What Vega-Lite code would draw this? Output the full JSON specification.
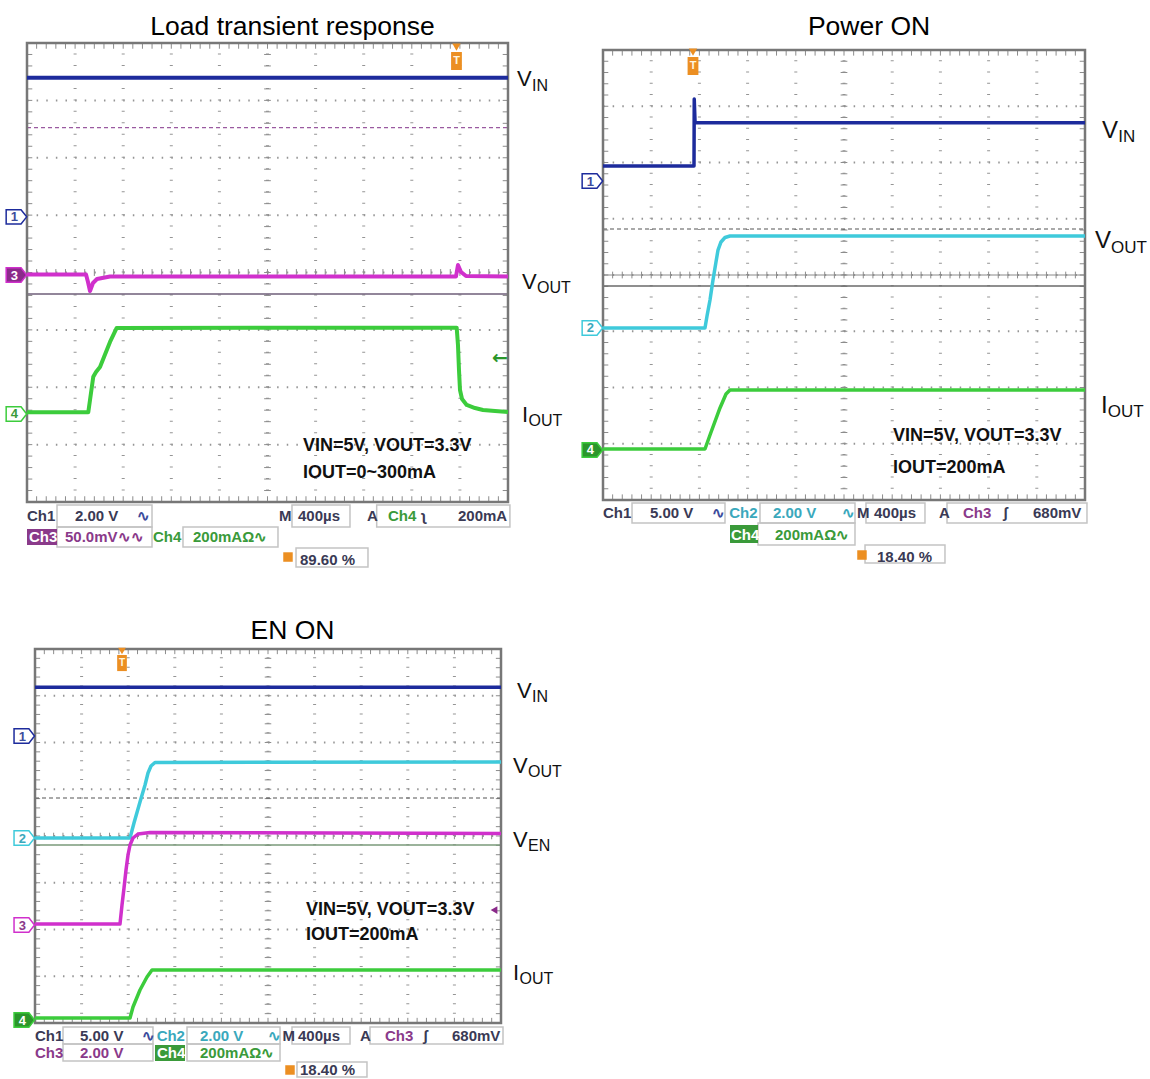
{
"$schema":"https://vega.github.io/schema/vega-lite/v6.json",
"background":"white","padding":0,"bounds":"flush","spacing":0,"columns":2,
"config":{"view":{"stroke":null},"axis":{"disable":true},"legend":{"disable":true}},
"datasets":{
"gx":[{"v":1},{"v":2},{"v":3},{"v":4},{"v":5},{"v":6},{"v":7},{"v":8},{"v":9}],
"gy":[{"v":1},{"v":2},{"v":3},{"v":4},{"v":5},{"v":6},{"v":7}],
"mx":[{"v":0.2},{"v":0.4},{"v":0.6},{"v":0.8},{"v":1},{"v":1.2},{"v":1.4},{"v":1.6},{"v":1.8},{"v":2},{"v":2.2},{"v":2.4},{"v":2.6},{"v":2.8},{"v":3},{"v":3.2},{"v":3.4},{"v":3.6},{"v":3.8},{"v":4},{"v":4.2},{"v":4.4},{"v":4.6},{"v":4.8},{"v":5},{"v":5.2},{"v":5.4},{"v":5.6},{"v":5.8},{"v":6},{"v":6.2},{"v":6.4},{"v":6.6},{"v":6.8},{"v":7},{"v":7.2},{"v":7.4},{"v":7.6},{"v":7.8},{"v":8},{"v":8.2},{"v":8.4},{"v":8.6},{"v":8.8},{"v":9},{"v":9.2},{"v":9.4},{"v":9.6},{"v":9.8}],
"my":[{"v":0.2},{"v":0.4},{"v":0.6},{"v":0.8},{"v":1},{"v":1.2},{"v":1.4},{"v":1.6},{"v":1.8},{"v":2},{"v":2.2},{"v":2.4},{"v":2.6},{"v":2.8},{"v":3},{"v":3.2},{"v":3.4},{"v":3.6},{"v":3.8},{"v":4},{"v":4.2},{"v":4.4},{"v":4.6},{"v":4.8},{"v":5},{"v":5.2},{"v":5.4},{"v":5.6},{"v":5.8},{"v":6},{"v":6.2},{"v":6.4},{"v":6.6},{"v":6.8},{"v":7},{"v":7.2},{"v":7.4},{"v":7.6},{"v":7.8}]
},
"concat":[
{"width":575,"height":575,
"layer":[
{"data":{"name":"gx"},"mark":{"type":"rule","stroke":"#959595","strokeWidth":3,"strokeDash":[1,10.475]},"encoding":{"x":{"field":"v","type":"quantitative","scale":{"domain":[-0.5613,11.3929],"nice":false,"zero":false}},"y":{"datum":0,"type":"quantitative","scale":{"domain":[-1.2723,8.7495],"nice":false,"zero":false}},"y2":{"datum":8}}},
{"data":{"name":"gy"},"mark":{"type":"rule","stroke":"#959595","strokeWidth":2,"strokeDash":[1.5,8.12]},"encoding":{"y":{"field":"v","type":"quantitative"},"x":{"datum":0},"x2":{"datum":10}}},
{"data":{"name":"mx"},"mark":{"type":"rule","stroke":"#8c8c8c","strokeWidth":1},"encoding":{"x":{"field":"v","type":"quantitative"},"y":{"datum":8},"y2":{"datum":7.9}}},
{"data":{"name":"mx"},"mark":{"type":"rule","stroke":"#8c8c8c","strokeWidth":1},"encoding":{"x":{"field":"v","type":"quantitative"},"y":{"datum":0},"y2":{"datum":0.1}}},
{"data":{"name":"mx"},"mark":{"type":"rule","stroke":"#8c8c8c","strokeWidth":1},"encoding":{"x":{"field":"v","type":"quantitative"},"y":{"datum":3.94},"y2":{"datum":4.06}}},
{"data":{"name":"my"},"mark":{"type":"rule","stroke":"#8c8c8c","strokeWidth":1},"encoding":{"y":{"field":"v","type":"quantitative"},"x":{"datum":0},"x2":{"datum":0.11}}},
{"data":{"name":"my"},"mark":{"type":"rule","stroke":"#8c8c8c","strokeWidth":1},"encoding":{"y":{"field":"v","type":"quantitative"},"x":{"datum":9.89},"x2":{"datum":10}}},
{"data":{"name":"my"},"mark":{"type":"rule","stroke":"#8c8c8c","strokeWidth":1},"encoding":{"y":{"field":"v","type":"quantitative"},"x":{"datum":4.93},"x2":{"datum":5.07}}},
{"data":{"values":[{}]},"mark":{"type":"rule","stroke":"#9a5aa0","strokeWidth":1.3,"strokeDash":[4,3]},"encoding":{"y":{"datum":6.524},"x":{"datum":0},"x2":{"datum":10}}},
{"data":{"values":[{}]},"mark":{"type":"rule","stroke":"#6e5e78","strokeWidth":1.5},"encoding":{"y":{"datum":3.625},"x":{"datum":0},"x2":{"datum":10}}},
{"data":{"values":[{}]},"mark":{"type":"rect","filled":false,"stroke":"#777777","strokeWidth":2.5},"encoding":{"x":{"datum":0},"x2":{"datum":10},"y":{"datum":0},"y2":{"datum":8}}},
{"data":{"values":[
{"ch":"1","x":0,"y":7.395},{"ch":"1","x":10,"y":7.395},
{"ch":"3","x":0,"y":3.965},{"ch":"3","x":1.227,"y":3.965},{"ch":"3","x":1.268,"y":3.834},{"ch":"3","x":1.31,"y":3.677},{"ch":"3","x":1.372,"y":3.817},{"ch":"3","x":1.455,"y":3.887},{"ch":"3","x":1.726,"y":3.93},{"ch":"3","x":8.919,"y":3.93},{"ch":"3","x":8.96,"y":4.131},{"ch":"3","x":9.023,"y":4.009},{"ch":"3","x":9.127,"y":3.939},{"ch":"3","x":10,"y":3.93},
{"ch":"4","x":0,"y":1.563},{"ch":"4","x":1.274,"y":1.563},{"ch":"4","x":1.31,"y":1.778},{"ch":"4","x":1.378,"y":2.184},{"ch":"4","x":1.435,"y":2.266},{"ch":"4","x":1.518,"y":2.353},{"ch":"4","x":1.601,"y":2.527},{"ch":"4","x":1.726,"y":2.789},{"ch":"4","x":1.865,"y":3.033},{"ch":"4","x":8.933,"y":3.038},{"ch":"4","x":8.96,"y":2.736},{"ch":"4","x":8.981,"y":2.301},{"ch":"4","x":9.002,"y":1.952},{"ch":"4","x":9.044,"y":1.795},{"ch":"4","x":9.141,"y":1.691},{"ch":"4","x":9.314,"y":1.638},{"ch":"4","x":9.48,"y":1.603},{"ch":"4","x":9.73,"y":1.586},{"ch":"4","x":10,"y":1.569}
]},"mark":{"type":"line","strokeWidth":4,"strokeJoin":"round"},"encoding":{"x":{"field":"x","type":"quantitative"},"y":{"field":"y","type":"quantitative"},"stroke":{"field":"ch","type":"nominal","scale":{"domain":["1","2","3","4"],"range":["#1d2b9c","#3fcadb","#d030cc","#3ccc3c"]},"legend":null}}},
{"data":{"values":[{"ch":"1","y":4.97,"sel":false},{"ch":"3","y":3.956,"sel":true},{"ch":"4","y":1.534,"sel":false}]},"mark":{"type":"point","shape":"M-1,-0.7L0.45,-0.7L1,0L0.45,0.7L-1,0.7Z","size":420,"strokeWidth":1.5,"filled":true,"opacity":1},"encoding":{"x":{"datum":-0.22},"y":{"field":"y","type":"quantitative"},"fill":{"condition":{"test":"datum.sel","field":"ch","type":"nominal","scale":{"domain":["1","2","3","4"],"range":["#5a6aa8","#3fb8c8","#8a2a8a","#2a962a"]},"legend":null},"value":"white"},"stroke":{"field":"ch","type":"nominal","scale":{"domain":["1","2","3","4"],"range":["#1d2b9c","#3fcadb","#d030cc","#3ccc3c"]},"legend":null}}},
{"data":{"values":[{"ch":"1","y":4.97,"sel":false},{"ch":"3","y":3.956,"sel":true},{"ch":"4","y":1.534,"sel":false}]},"mark":{"type":"text","font":"Liberation Sans","fontWeight":"bold","fontSize":13,"dx":-2,"dy":0.5,"baseline":"middle","align":"center"},"encoding":{"x":{"datum":-0.22},"y":{"field":"y","type":"quantitative"},"text":{"field":"ch"},"color":{"condition":{"test":"datum.sel","value":"white"},"field":"ch","type":"nominal","scale":{"domain":["1","2","3","4","k","w"],"range":["#3c4c9c","#3aa8bc","#8a3a8a","#3a9a3a","#3a3a55","#ffffff"]},"legend":null}}},
{"data":{"values":[{}]},"mark":{"type":"point","shape":"triangle-down","size":70,"filled":true,"color":"#ec8f22","opacity":1},"encoding":{"x":{"datum":8.929},"y":{"datum":7.93}}},
{"data":{"values":[{}]},"mark":{"type":"point","shape":"M-0.6,-1L0.6,-1L0.6,1L-0.6,1Z","size":324,"filled":true,"color":"#ec8f22","opacity":1},"encoding":{"x":{"datum":8.929},"y":{"datum":7.686}}},
{"data":{"values":[{}]},"mark":{"type":"text","text":"T","font":"Liberation Sans","fontWeight":"bold","fontSize":11,"color":"#fff6e0","baseline":"middle","align":"center"},"encoding":{"x":{"datum":8.929},"y":{"datum":7.686}}},
{"data":{"values":[{"t":"←"}]},"mark":{"type":"text","font":"DejaVu Sans","fontWeight":"bold","fontSize":19,"align":"center","baseline":"middle","color":"#2a962a"},"encoding":{"x":{"datum":9.834},"y":{"datum":2.51},"text":{"field":"t"}}},
{"data":{"values":[{"t":"Load transient response"}]},"mark":{"type":"text","font":"Liberation Sans","fontSize":26.5,"align":"center","baseline":"alphabetic","color":"#000000"},"encoding":{"x":{"datum":5.52},"y":{"datum":8.139},"text":{"field":"t"}}},
{"data":{"values":[{"x":10.187,"y":7.251,"t":"V"},{"x":10.291,"y":3.712,"t":"V"},{"x":10.291,"y":1.394,"t":"I"}]},"mark":{"type":"text","font":"Liberation Sans","fontSize":22,"align":"left","baseline":"alphabetic","color":"#111111"},"encoding":{"x":{"field":"x","type":"quantitative"},"y":{"field":"y","type":"quantitative"},"text":{"field":"t"}}},
{"data":{"values":[{"x":10.499,"y":7.163,"t":"IN"},{"x":10.603,"y":3.643,"t":"OUT"},{"x":10.426,"y":1.325,"t":"OUT"}]},"mark":{"type":"text","font":"Liberation Sans","fontSize":16,"align":"left","baseline":"alphabetic","color":"#111111"},"encoding":{"x":{"field":"x","type":"quantitative"},"y":{"field":"y","type":"quantitative"},"text":{"field":"t"}}},
{"data":{"values":[{"x":5.738,"y":0.889,"t":"VIN=5V, VOUT=3.3V"},{"x":5.738,"y":0.418,"t":"IOUT=0~300mA"}]},"mark":{"type":"text","font":"Liberation Sans","fontWeight":"bold","fontSize":18,"align":"left","baseline":"alphabetic","color":"#111111"},"encoding":{"x":{"field":"x","type":"quantitative"},"y":{"field":"y","type":"quantitative"},"text":{"field":"t"}}},
{"data":{"values":[{"x":0.624,"x2":2.599,"y":-0.052,"y2":-0.436},{"x":5.509,"x2":6.715,"y":-0.052,"y2":-0.436},{"x":7.27,"x2":10.04,"y":-0.052,"y2":-0.436},{"x":0.624,"x2":2.599,"y":-0.436,"y2":-0.784},{"x":3.243,"x2":5.218,"y":-0.436,"y2":-0.784},{"x":5.593,"x2":7.089,"y":-0.802,"y2":-1.133}]},"mark":{"type":"rect","filled":false,"stroke":"#c4c4c4","strokeWidth":1.5},"encoding":{"x":{"field":"x","type":"quantitative"},"x2":{"field":"x2"},"y":{"field":"y","type":"quantitative"},"y2":{"field":"y2"}}},
{"data":{"values":[{"x":0,"x2":0.624,"y":-0.471,"y2":-0.749,"c":"3"}]},"mark":{"type":"rect"},"encoding":{"x":{"field":"x","type":"quantitative"},"x2":{"field":"x2"},"y":{"field":"y","type":"quantitative"},"y2":{"field":"y2"},"color":{"field":"c","type":"nominal","scale":{"domain":["1","2","3","4","k","w"],"range":["#3c4c9c","#3aa8bc","#8a3a8a","#3a9a3a","#3a3a55","#ffffff"]},"legend":null}}},
{"data":{"values":[
{"x":0,"y":-0.331,"t":"Ch1","c":"k"},{"x":0.998,"y":-0.331,"t":"2.00 V","c":"k"},{"x":2.287,"y":-0.331,"t":"∿","c":"1"},{"x":5.239,"y":-0.331,"t":"M","c":"k"},{"x":5.634,"y":-0.331,"t":"400µs","c":"k"},{"x":7.07,"y":-0.331,"t":"A","c":"k"},{"x":7.505,"y":-0.331,"t":"Ch4","c":"4"},{"x":8.2,"y":-0.331,"t":"ʅ","c":"k"},{"x":8.96,"y":-0.331,"t":"200mA","c":"k"},
{"x":0.042,"y":-0.697,"t":"Ch3","c":"w"},{"x":0.79,"y":-0.697,"t":"50.0mV∿∿","c":"3"},{"x":2.62,"y":-0.697,"t":"Ch4","c":"4"},{"x":3.451,"y":-0.697,"t":"200mAΩ∿","c":"4"},
{"x":5.676,"y":-1.098,"t":"89.60 %","c":"k"}
]},"mark":{"type":"text","font":"Liberation Sans","fontWeight":"bold","fontSize":15,"align":"left","baseline":"alphabetic"},"encoding":{"x":{"field":"x","type":"quantitative"},"y":{"field":"y","type":"quantitative"},"text":{"field":"t"},"color":{"field":"c","type":"nominal","scale":{"domain":["1","2","3","4","k","w"],"range":["#3c4c9c","#3aa8bc","#8a3a8a","#3a9a3a","#3a3a55","#ffffff"]},"legend":null}}},
{"data":{"values":[{}]},"mark":{"type":"square","size":90,"color":"#ec8f22","opacity":1},"encoding":{"x":{"datum":5.426},"y":{"datum":-0.959}}}
]},
{"width":575,"height":575,
"layer":[
{"data":{"name":"gx"},"mark":{"type":"rule","stroke":"#959595","strokeWidth":3,"strokeDash":[1,10.25]},"encoding":{"x":{"field":"v","type":"quantitative","scale":{"domain":[-0.5809,11.3485],"nice":false,"zero":false}},"y":{"datum":0,"type":"quantitative","scale":{"domain":[-1.3333,8.8889],"nice":false,"zero":false}},"y2":{"datum":8}}},
{"data":{"name":"gy"},"mark":{"type":"rule","stroke":"#959595","strokeWidth":2,"strokeDash":[1.5,8.14]},"encoding":{"y":{"field":"v","type":"quantitative"},"x":{"datum":0},"x2":{"datum":10}}},
{"data":{"name":"mx"},"mark":{"type":"rule","stroke":"#8c8c8c","strokeWidth":1},"encoding":{"x":{"field":"v","type":"quantitative"},"y":{"datum":8},"y2":{"datum":7.9}}},
{"data":{"name":"mx"},"mark":{"type":"rule","stroke":"#8c8c8c","strokeWidth":1},"encoding":{"x":{"field":"v","type":"quantitative"},"y":{"datum":0},"y2":{"datum":0.1}}},
{"data":{"name":"mx"},"mark":{"type":"rule","stroke":"#8c8c8c","strokeWidth":1},"encoding":{"x":{"field":"v","type":"quantitative"},"y":{"datum":3.94},"y2":{"datum":4.06}}},
{"data":{"name":"my"},"mark":{"type":"rule","stroke":"#8c8c8c","strokeWidth":1},"encoding":{"y":{"field":"v","type":"quantitative"},"x":{"datum":0},"x2":{"datum":0.11}}},
{"data":{"name":"my"},"mark":{"type":"rule","stroke":"#8c8c8c","strokeWidth":1},"encoding":{"y":{"field":"v","type":"quantitative"},"x":{"datum":9.89},"x2":{"datum":10}}},
{"data":{"name":"my"},"mark":{"type":"rule","stroke":"#8c8c8c","strokeWidth":1},"encoding":{"y":{"field":"v","type":"quantitative"},"x":{"datum":4.93},"x2":{"datum":5.07}}},
{"data":{"values":[{}]},"mark":{"type":"rule","stroke":"#8a8a8a","strokeWidth":1},"encoding":{"y":{"datum":4},"x":{"datum":0},"x2":{"datum":10}}},
{"data":{"values":[{}]},"mark":{"type":"rule","stroke":"#6a6a6a","strokeWidth":1.5},"encoding":{"y":{"datum":3.804},"x":{"datum":0},"x2":{"datum":10}}},
{"data":{"values":[{}]},"mark":{"type":"rule","stroke":"#555555","strokeWidth":1.2,"strokeDash":[4,3]},"encoding":{"y":{"datum":4.818},"x":{"datum":0},"x2":{"datum":10}}},
{"data":{"values":[{}]},"mark":{"type":"rect","filled":false,"stroke":"#777777","strokeWidth":2.5},"encoding":{"x":{"datum":0},"x2":{"datum":10},"y":{"datum":0},"y2":{"datum":8}}},
{"data":{"values":[
{"ch":"1","x":0,"y":5.938},{"ch":"1","x":1.888,"y":5.938},{"ch":"1","x":1.893,"y":7.129},{"ch":"1","x":1.91,"y":6.708},{"ch":"1","x":10,"y":6.708},
{"ch":"2","x":0,"y":3.058},{"ch":"2","x":2.116,"y":3.058},{"ch":"2","x":2.158,"y":3.271},{"ch":"2","x":2.22,"y":3.556},{"ch":"2","x":2.282,"y":3.911},{"ch":"2","x":2.344,"y":4.231},{"ch":"2","x":2.386,"y":4.444},{"ch":"2","x":2.448,"y":4.587},{"ch":"2","x":2.531,"y":4.667},{"ch":"2","x":2.635,"y":4.693},{"ch":"2","x":10,"y":4.693},
{"ch":"4","x":0,"y":0.907},{"ch":"4","x":2.116,"y":0.907},{"ch":"4","x":2.22,"y":1.156},{"ch":"4","x":2.427,"y":1.636},{"ch":"4","x":2.552,"y":1.884},{"ch":"4","x":2.635,"y":1.956},{"ch":"4","x":10,"y":1.956}
]},"mark":{"type":"line","strokeWidth":3.5,"strokeJoin":"round"},"encoding":{"x":{"field":"x","type":"quantitative"},"y":{"field":"y","type":"quantitative"},"stroke":{"field":"ch","type":"nominal","scale":{"domain":["1","2","3","4"],"range":["#1d2b9c","#3fcadb","#d030cc","#3ccc3c"]},"legend":null}}},
{"data":{"values":[{"ch":"1","y":5.671,"sel":false},{"ch":"2","y":3.058,"sel":false},{"ch":"4","y":0.889,"sel":true}]},"mark":{"type":"point","shape":"M-1,-0.7L0.45,-0.7L1,0L0.45,0.7L-1,0.7Z","size":420,"strokeWidth":1.5,"filled":true,"opacity":1},"encoding":{"x":{"datum":-0.22},"y":{"field":"y","type":"quantitative"},"fill":{"condition":{"test":"datum.sel","field":"ch","type":"nominal","scale":{"domain":["1","2","3","4"],"range":["#5a6aa8","#3fb8c8","#8a2a8a","#2a962a"]},"legend":null},"value":"white"},"stroke":{"field":"ch","type":"nominal","scale":{"domain":["1","2","3","4"],"range":["#1d2b9c","#3fcadb","#d030cc","#3ccc3c"]},"legend":null}}},
{"data":{"values":[{"ch":"1","y":5.671,"sel":false},{"ch":"2","y":3.058,"sel":false},{"ch":"4","y":0.889,"sel":true}]},"mark":{"type":"text","font":"Liberation Sans","fontWeight":"bold","fontSize":13,"dx":-2,"dy":0.5,"baseline":"middle","align":"center"},"encoding":{"x":{"datum":-0.22},"y":{"field":"y","type":"quantitative"},"text":{"field":"ch"},"color":{"condition":{"test":"datum.sel","value":"white"},"field":"ch","type":"nominal","scale":{"domain":["1","2","3","4","k","w"],"range":["#3c4c9c","#3aa8bc","#8a3a8a","#3a9a3a","#3a3a55","#ffffff"]},"legend":null}}},
{"data":{"values":[{}]},"mark":{"type":"point","shape":"triangle-down","size":70,"filled":true,"color":"#ec8f22","opacity":1},"encoding":{"x":{"datum":1.867},"y":{"datum":7.964}}},
{"data":{"values":[{}]},"mark":{"type":"point","shape":"M-0.6,-1L0.6,-1L0.6,1L-0.6,1Z","size":324,"filled":true,"color":"#ec8f22","opacity":1},"encoding":{"x":{"datum":1.867},"y":{"datum":7.716}}},
{"data":{"values":[{}]},"mark":{"type":"text","text":"T","font":"Liberation Sans","fontWeight":"bold","fontSize":11,"color":"#fff6e0","baseline":"middle","align":"center"},"encoding":{"x":{"datum":1.867},"y":{"datum":7.716}}},
{"data":{"values":[{"t":"Power ON"}]},"mark":{"type":"text","font":"Liberation Sans","fontSize":26.5,"align":"center","baseline":"alphabetic","color":"#000000"},"encoding":{"x":{"datum":5.519},"y":{"datum":8.267},"text":{"field":"t"}}},
{"data":{"values":[{"x":10.353,"y":6.436,"t":"V"},{"x":10.207,"y":4.48,"t":"V"},{"x":10.332,"y":1.547,"t":"I"}]},"mark":{"type":"text","font":"Liberation Sans","fontSize":24,"align":"left","baseline":"alphabetic","color":"#111111"},"encoding":{"x":{"field":"x","type":"quantitative"},"y":{"field":"y","type":"quantitative"},"text":{"field":"t"}}},
{"data":{"values":[{"x":10.69,"y":6.364,"t":"IN"},{"x":10.54,"y":4.391,"t":"OUT"},{"x":10.47,"y":1.476,"t":"OUT"}]},"mark":{"type":"text","font":"Liberation Sans","fontSize":17,"align":"left","baseline":"alphabetic","color":"#111111"},"encoding":{"x":{"field":"x","type":"quantitative"},"y":{"field":"y","type":"quantitative"},"text":{"field":"t"}}},
{"data":{"values":[{"x":6.017,"y":1.049,"t":"VIN=5V, VOUT=3.3V"},{"x":6.017,"y":0.48,"t":"IOUT=200mA"}]},"mark":{"type":"text","font":"Liberation Sans","fontWeight":"bold","fontSize":18,"align":"left","baseline":"alphabetic","color":"#111111"},"encoding":{"x":{"field":"x","type":"quantitative"},"y":{"field":"y","type":"quantitative"},"text":{"field":"t"}}},
{"data":{"values":[{"x":0.602,"x2":2.531,"y":-0.053,"y2":-0.409},{"x":3.257,"x2":5.228,"y":-0.053,"y2":-0.409},{"x":5.456,"x2":6.68,"y":-0.053,"y2":-0.409},{"x":7.137,"x2":10.041,"y":-0.053,"y2":-0.409},{"x":3.216,"x2":5.228,"y":-0.409,"y2":-0.8},{"x":5.436,"x2":7.095,"y":-0.8,"y2":-1.12}]},"mark":{"type":"rect","filled":false,"stroke":"#c4c4c4","strokeWidth":1.5},"encoding":{"x":{"field":"x","type":"quantitative"},"x2":{"field":"x2"},"y":{"field":"y","type":"quantitative"},"y2":{"field":"y2"}}},
{"data":{"values":[{"x":2.635,"x2":3.216,"y":-0.444,"y2":-0.764,"c":"4"}]},"mark":{"type":"rect"},"encoding":{"x":{"field":"x","type":"quantitative"},"x2":{"field":"x2"},"y":{"field":"y","type":"quantitative"},"y2":{"field":"y2"},"color":{"field":"c","type":"nominal","scale":{"domain":["1","2","3","4","k","w"],"range":["#3c4c9c","#3aa8bc","#8a3a8a","#3a9a3a","#3a3a55","#ffffff"]},"legend":null}}},
{"data":{"values":[
{"x":0,"y":-0.32,"t":"Ch1","c":"k"},{"x":0.975,"y":-0.32,"t":"5.00 V","c":"k"},{"x":2.27,"y":-0.32,"t":"∿","c":"1"},{"x":2.62,"y":-0.32,"t":"Ch2","c":"2"},{"x":3.527,"y":-0.32,"t":"2.00 V","c":"2"},{"x":4.96,"y":-0.32,"t":"∿","c":"2"},{"x":5.27,"y":-0.32,"t":"M","c":"k"},{"x":5.622,"y":-0.32,"t":"400µs","c":"k"},{"x":6.971,"y":-0.32,"t":"A","c":"k"},{"x":7.469,"y":-0.32,"t":"Ch3","c":"3"},{"x":8.299,"y":-0.32,"t":"ʃ","c":"k"},{"x":8.921,"y":-0.32,"t":"680mV","c":"k"},
{"x":2.656,"y":-0.711,"t":"Ch4","c":"w"},{"x":3.568,"y":-0.711,"t":"200mAΩ∿","c":"4"},
{"x":5.685,"y":-1.102,"t":"18.40 %","c":"k"}
]},"mark":{"type":"text","font":"Liberation Sans","fontWeight":"bold","fontSize":15,"align":"left","baseline":"alphabetic"},"encoding":{"x":{"field":"x","type":"quantitative"},"y":{"field":"y","type":"quantitative"},"text":{"field":"t"},"color":{"field":"c","type":"nominal","scale":{"domain":["1","2","3","4","k","w"],"range":["#3c4c9c","#3aa8bc","#8a3a8a","#3a9a3a","#3a3a55","#ffffff"]},"legend":null}}},
{"data":{"values":[{}]},"mark":{"type":"square","size":90,"color":"#ec8f22","opacity":1},"encoding":{"x":{"datum":5.373},"y":{"datum":-0.978}}}
]},
{"width":575,"height":504,
"layer":[
{"data":{"name":"gx"},"mark":{"type":"rule","stroke":"#959595","strokeWidth":3,"strokeDash":[1,8.35]},"encoding":{"x":{"field":"v","type":"quantitative","scale":{"domain":[-0.7511,11.588],"nice":false,"zero":false}},"y":{"datum":0,"type":"quantitative","scale":{"domain":[-1.1979,9.5829],"nice":false,"zero":false}},"y2":{"datum":8}}},
{"data":{"name":"gy"},"mark":{"type":"rule","stroke":"#959595","strokeWidth":2,"strokeDash":[1.5,7.82]},"encoding":{"y":{"field":"v","type":"quantitative"},"x":{"datum":0},"x2":{"datum":10}}},
{"data":{"name":"mx"},"mark":{"type":"rule","stroke":"#8c8c8c","strokeWidth":1},"encoding":{"x":{"field":"v","type":"quantitative"},"y":{"datum":8},"y2":{"datum":7.89}}},
{"data":{"name":"mx"},"mark":{"type":"rule","stroke":"#8c8c8c","strokeWidth":1},"encoding":{"x":{"field":"v","type":"quantitative"},"y":{"datum":0},"y2":{"datum":0.11}}},
{"data":{"name":"mx"},"mark":{"type":"rule","stroke":"#8c8c8c","strokeWidth":1},"encoding":{"x":{"field":"v","type":"quantitative"},"y":{"datum":3.93},"y2":{"datum":4.07}}},
{"data":{"name":"my"},"mark":{"type":"rule","stroke":"#8c8c8c","strokeWidth":1},"encoding":{"y":{"field":"v","type":"quantitative"},"x":{"datum":0},"x2":{"datum":0.11}}},
{"data":{"name":"my"},"mark":{"type":"rule","stroke":"#8c8c8c","strokeWidth":1},"encoding":{"y":{"field":"v","type":"quantitative"},"x":{"datum":9.89},"x2":{"datum":10}}},
{"data":{"name":"my"},"mark":{"type":"rule","stroke":"#8c8c8c","strokeWidth":1},"encoding":{"y":{"field":"v","type":"quantitative"},"x":{"datum":4.93},"x2":{"datum":5.07}}},
{"data":{"values":[{}]},"mark":{"type":"rule","stroke":"#555555","strokeWidth":1.2,"strokeDash":[4,3]},"encoding":{"y":{"datum":4.813},"x":{"datum":0},"x2":{"datum":10}}},
{"data":{"values":[{}]},"mark":{"type":"rule","stroke":"#7a9a7a","strokeWidth":1.5},"encoding":{"y":{"datum":3.807},"x":{"datum":0},"x2":{"datum":10}}},
{"data":{"values":[{}]},"mark":{"type":"rect","filled":false,"stroke":"#777777","strokeWidth":2.5},"encoding":{"x":{"datum":0},"x2":{"datum":10},"y":{"datum":0},"y2":{"datum":8}}},
{"data":{"values":[
{"ch":"1","x":0,"y":7.181},{"ch":"1","x":10,"y":7.181},
{"ch":"2","x":0,"y":3.957},{"ch":"2","x":2.039,"y":3.957},{"ch":"2","x":2.124,"y":4.278},{"ch":"2","x":2.253,"y":4.727},{"ch":"2","x":2.361,"y":5.091},{"ch":"2","x":2.425,"y":5.348},{"ch":"2","x":2.489,"y":5.497},{"ch":"2","x":2.575,"y":5.572},{"ch":"2","x":10,"y":5.583},
{"ch":"3","x":0,"y":2.118},{"ch":"3","x":1.824,"y":2.118},{"ch":"3","x":1.867,"y":2.524},{"ch":"3","x":1.91,"y":2.888},{"ch":"3","x":1.953,"y":3.273},{"ch":"3","x":1.996,"y":3.594},{"ch":"3","x":2.039,"y":3.807},{"ch":"3","x":2.103,"y":3.957},{"ch":"3","x":2.21,"y":4.043},{"ch":"3","x":2.468,"y":4.075},{"ch":"3","x":10,"y":4.053},
{"ch":"4","x":0,"y":0.107},{"ch":"4","x":2.039,"y":0.107},{"ch":"4","x":2.103,"y":0.342},{"ch":"4","x":2.253,"y":0.706},{"ch":"4","x":2.403,"y":0.984},{"ch":"4","x":2.511,"y":1.134},{"ch":"4","x":10,"y":1.134}
]},"mark":{"type":"line","strokeWidth":3.5,"strokeJoin":"round"},"encoding":{"x":{"field":"x","type":"quantitative"},"y":{"field":"y","type":"quantitative"},"stroke":{"field":"ch","type":"nominal","scale":{"domain":["1","2","3","4"],"range":["#1d2b9c","#3fcadb","#d030cc","#3ccc3c"]},"legend":null}}},
{"data":{"values":[{"ch":"1","y":6.139,"sel":false},{"ch":"2","y":3.957,"sel":false},{"ch":"3","y":2.096,"sel":false},{"ch":"4","y":0.064,"sel":true}]},"mark":{"type":"point","shape":"M-1,-0.7L0.45,-0.7L1,0L0.45,0.7L-1,0.7Z","size":420,"strokeWidth":1.5,"filled":true,"opacity":1},"encoding":{"x":{"datum":-0.23},"y":{"field":"y","type":"quantitative"},"fill":{"condition":{"test":"datum.sel","field":"ch","type":"nominal","scale":{"domain":["1","2","3","4"],"range":["#5a6aa8","#3fb8c8","#8a2a8a","#2a962a"]},"legend":null},"value":"white"},"stroke":{"field":"ch","type":"nominal","scale":{"domain":["1","2","3","4"],"range":["#1d2b9c","#3fcadb","#d030cc","#3ccc3c"]},"legend":null}}},
{"data":{"values":[{"ch":"1","y":6.139,"sel":false},{"ch":"2","y":3.957,"sel":false},{"ch":"3","y":2.096,"sel":false},{"ch":"4","y":0.064,"sel":true}]},"mark":{"type":"text","font":"Liberation Sans","fontWeight":"bold","fontSize":13,"dx":-2,"dy":0.5,"baseline":"middle","align":"center"},"encoding":{"x":{"datum":-0.23},"y":{"field":"y","type":"quantitative"},"text":{"field":"ch"},"color":{"condition":{"test":"datum.sel","value":"white"},"field":"ch","type":"nominal","scale":{"domain":["1","2","3","4","k","w"],"range":["#3c4c9c","#3aa8bc","#8a3a8a","#3a9a3a","#3a3a55","#ffffff"]},"legend":null}}},
{"data":{"values":[{}]},"mark":{"type":"point","shape":"triangle-down","size":60,"filled":true,"color":"#ec8f22","opacity":1},"encoding":{"x":{"datum":1.867},"y":{"datum":7.957}}},
{"data":{"values":[{}]},"mark":{"type":"point","shape":"M-0.6,-1L0.6,-1L0.6,1L-0.6,1Z","size":260,"filled":true,"color":"#ec8f22","opacity":1},"encoding":{"x":{"datum":1.867},"y":{"datum":7.7}}},
{"data":{"values":[{}]},"mark":{"type":"text","text":"T","font":"Liberation Sans","fontWeight":"bold","fontSize":10,"color":"#fff6e0","baseline":"middle","align":"center"},"encoding":{"x":{"datum":1.867},"y":{"datum":7.7}}},
{"data":{"values":[{"ch":"3"}]},"mark":{"type":"point","shape":"triangle-left","size":60,"filled":true,"opacity":1},"encoding":{"x":{"datum":9.85},"y":{"datum":2.417},"fill":{"field":"ch","type":"nominal","scale":{"domain":["1","2","3","4"],"range":["#5a6aa8","#3fb8c8","#8a2a8a","#2a962a"]},"legend":null}}},
{"data":{"values":[{"t":"EN ON"}]},"mark":{"type":"text","font":"Liberation Sans","fontSize":26.5,"align":"center","baseline":"alphabetic","color":"#000000"},"encoding":{"x":{"datum":5.526},"y":{"datum":8.214},"text":{"field":"t"}}},
{"data":{"values":[{"x":10.343,"y":6.952,"t":"V"},{"x":10.258,"y":5.348,"t":"V"},{"x":10.258,"y":3.765,"t":"V"},{"x":10.258,"y":0.92,"t":"I"}]},"mark":{"type":"text","font":"Liberation Sans","fontSize":22,"align":"left","baseline":"alphabetic","color":"#111111"},"encoding":{"x":{"field":"x","type":"quantitative"},"y":{"field":"y","type":"quantitative"},"text":{"field":"t"}}},
{"data":{"values":[{"x":10.665,"y":6.866,"t":"IN"},{"x":10.579,"y":5.262,"t":"OUT"},{"x":10.579,"y":3.679,"t":"EN"},{"x":10.397,"y":0.834,"t":"OUT"}]},"mark":{"type":"text","font":"Liberation Sans","fontSize":16,"align":"left","baseline":"alphabetic","color":"#111111"},"encoding":{"x":{"field":"x","type":"quantitative"},"y":{"field":"y","type":"quantitative"},"text":{"field":"t"}}},
{"data":{"values":[{"x":5.815,"y":2.31,"t":"VIN=5V, VOUT=3.3V"},{"x":5.815,"y":1.775,"t":"IOUT=200mA"}]},"mark":{"type":"text","font":"Liberation Sans","fontWeight":"bold","fontSize":18,"align":"left","baseline":"alphabetic","color":"#111111"},"encoding":{"x":{"field":"x","type":"quantitative"},"y":{"field":"y","type":"quantitative"},"text":{"field":"t"}}},
{"data":{"values":[{"x":0.601,"x2":2.532,"y":-0.086,"y2":-0.449},{"x":3.262,"x2":5.258,"y":-0.086,"y2":-0.449},{"x":5.515,"x2":6.76,"y":-0.086,"y2":-0.449},{"x":7.189,"x2":10.043,"y":-0.086,"y2":-0.449},{"x":0.601,"x2":2.532,"y":-0.449,"y2":-0.813},{"x":3.262,"x2":5.258,"y":-0.449,"y2":-0.813},{"x":5.622,"x2":7.124,"y":-0.834,"y2":-1.155}]},"mark":{"type":"rect","filled":false,"stroke":"#c4c4c4","strokeWidth":1.5},"encoding":{"x":{"field":"x","type":"quantitative"},"x2":{"field":"x2"},"y":{"field":"y","type":"quantitative"},"y2":{"field":"y2"}}},
{"data":{"values":[{"x":2.575,"x2":3.219,"y":-0.471,"y2":-0.813,"c":"4"}]},"mark":{"type":"rect"},"encoding":{"x":{"field":"x","type":"quantitative"},"x2":{"field":"x2"},"y":{"field":"y","type":"quantitative"},"y2":{"field":"y2"},"color":{"field":"c","type":"nominal","scale":{"domain":["1","2","3","4","k","w"],"range":["#3c4c9c","#3aa8bc","#8a3a8a","#3a9a3a","#3a3a55","#ffffff"]},"legend":null}}},
{"data":{"values":[
{"x":0,"y":-0.385,"t":"Ch1","c":"k"},{"x":0.966,"y":-0.385,"t":"5.00 V","c":"k"},{"x":2.29,"y":-0.385,"t":"∿","c":"1"},{"x":2.61,"y":-0.385,"t":"Ch2","c":"2"},{"x":3.541,"y":-0.385,"t":"2.00 V","c":"2"},{"x":5.0,"y":-0.385,"t":"∿","c":"2"},{"x":5.31,"y":-0.385,"t":"M","c":"k"},{"x":5.644,"y":-0.385,"t":"400µs","c":"k"},{"x":6.974,"y":-0.385,"t":"A","c":"k"},{"x":7.511,"y":-0.385,"t":"Ch3","c":"3"},{"x":8.326,"y":-0.385,"t":"ʃ","c":"k"},{"x":8.948,"y":-0.385,"t":"680mV","c":"k"},
{"x":0,"y":-0.749,"t":"Ch3","c":"3"},{"x":0.966,"y":-0.749,"t":"2.00 V","c":"3"},{"x":2.618,"y":-0.749,"t":"Ch4","c":"w"},{"x":3.541,"y":-0.749,"t":"200mAΩ∿","c":"4"},
{"x":5.687,"y":-1.112,"t":"18.40 %","c":"k"}
]},"mark":{"type":"text","font":"Liberation Sans","fontWeight":"bold","fontSize":15,"align":"left","baseline":"alphabetic"},"encoding":{"x":{"field":"x","type":"quantitative"},"y":{"field":"y","type":"quantitative"},"text":{"field":"t"},"color":{"field":"c","type":"nominal","scale":{"domain":["1","2","3","4","k","w"],"range":["#3c4c9c","#3aa8bc","#8a3a8a","#3a9a3a","#3a3a55","#ffffff"]},"legend":null}}},
{"data":{"values":[{}]},"mark":{"type":"square","size":90,"color":"#ec8f22","opacity":1},"encoding":{"x":{"datum":5.472},"y":{"datum":-1.005}}}
]}
]
}
